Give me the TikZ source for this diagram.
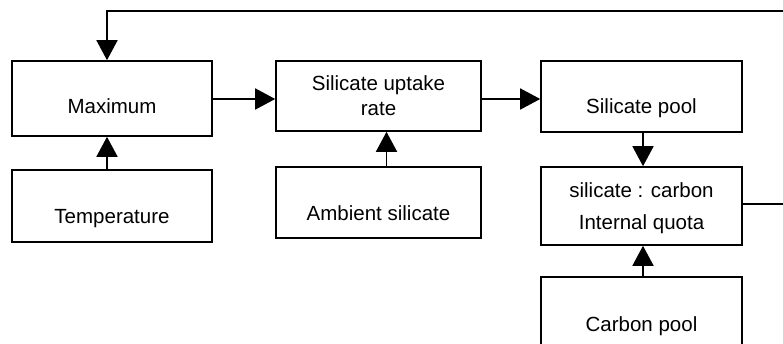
\documentclass[tikz,border=0pt]{standalone}
\usepackage{fontspec}
\setmainfont{Liberation Sans}
\usetikzlibrary{arrows.meta}
\newcommand{\boxtxt}[2]{\raisebox{#1}[0pt][0pt]{\begin{tabular}[t]{@{}c@{}}#2\end{tabular}}}
\begin{document}
\begin{tikzpicture}[x=1pt,y=-1pt,
  blk/.style={draw, line width=1.6pt, inner sep=0pt, minimum width=200pt, font=\fontsize{20.5}{24.6}\selectfont},
  arr/.style={line width=1.6pt, -{Triangle[length=20pt,width=21pt]}}]
\useasboundingbox (0,0) rectangle (783,344);
\clip (0,0) rectangle (783,344);
\node[blk, minimum height=75pt] (max) at (112,98.5) {\boxtxt{-15.5pt}{Maximum}};
\node[blk, minimum height=72pt] (temp) at (112,206) {\boxtxt{-18pt}{Temperature}};
\node[blk, minimum width=205pt, minimum height=70pt] (up) at (378.5,96) {\boxtxt{5.3pt}{Silicate uptake\\rate}};
\node[blk, minimum width=205pt, minimum height=71pt] (amb) at (378.5,202.5) {\boxtxt{-18pt}{Ambient silicate}};
\node[blk, minimum width=201pt, minimum height=71pt] (pool) at (641.5,96.5) {\boxtxt{-17.5pt}{Silicate pool}};
\node[blk, minimum width=201pt, minimum height=78pt, font=\fontsize{20.5}{32}\selectfont] (quota) at (641.5,206) {\boxtxt{8pt}{silicate : carbon\\Internal quota}};
\node[blk, minimum width=201pt, minimum height=71pt] (carb) at (641.5,312.5) {\boxtxt{-18.5pt}{Carbon pool}};
\coordinate (fb) at (800,11);
\draw[arr] ([yshift=-0.5pt]max.east) -- ([yshift=-0.5pt]max.east -| up.west);
\draw[arr] ([yshift=-0.5pt]max.east -| up.east) -- ([yshift=-0.5pt]max.east -| pool.west);
\draw[arr] ([xshift=-5pt]temp.north) -- ([xshift=-5pt]max.south);
\draw[arr] ([xshift=8pt]amb.north) -- ([xshift=8pt]up.south);
\draw[arr] ([xshift=1.5pt]pool.south) -- ([xshift=1.5pt]quota.north);
\draw[arr] ([xshift=1.5pt]carb.north) -- ([xshift=1.5pt]quota.south);
\draw[arr] ([yshift=2pt]quota.east) -| (fb) -| ([xshift=-5pt]max.north);
\end{tikzpicture}
\end{document}
